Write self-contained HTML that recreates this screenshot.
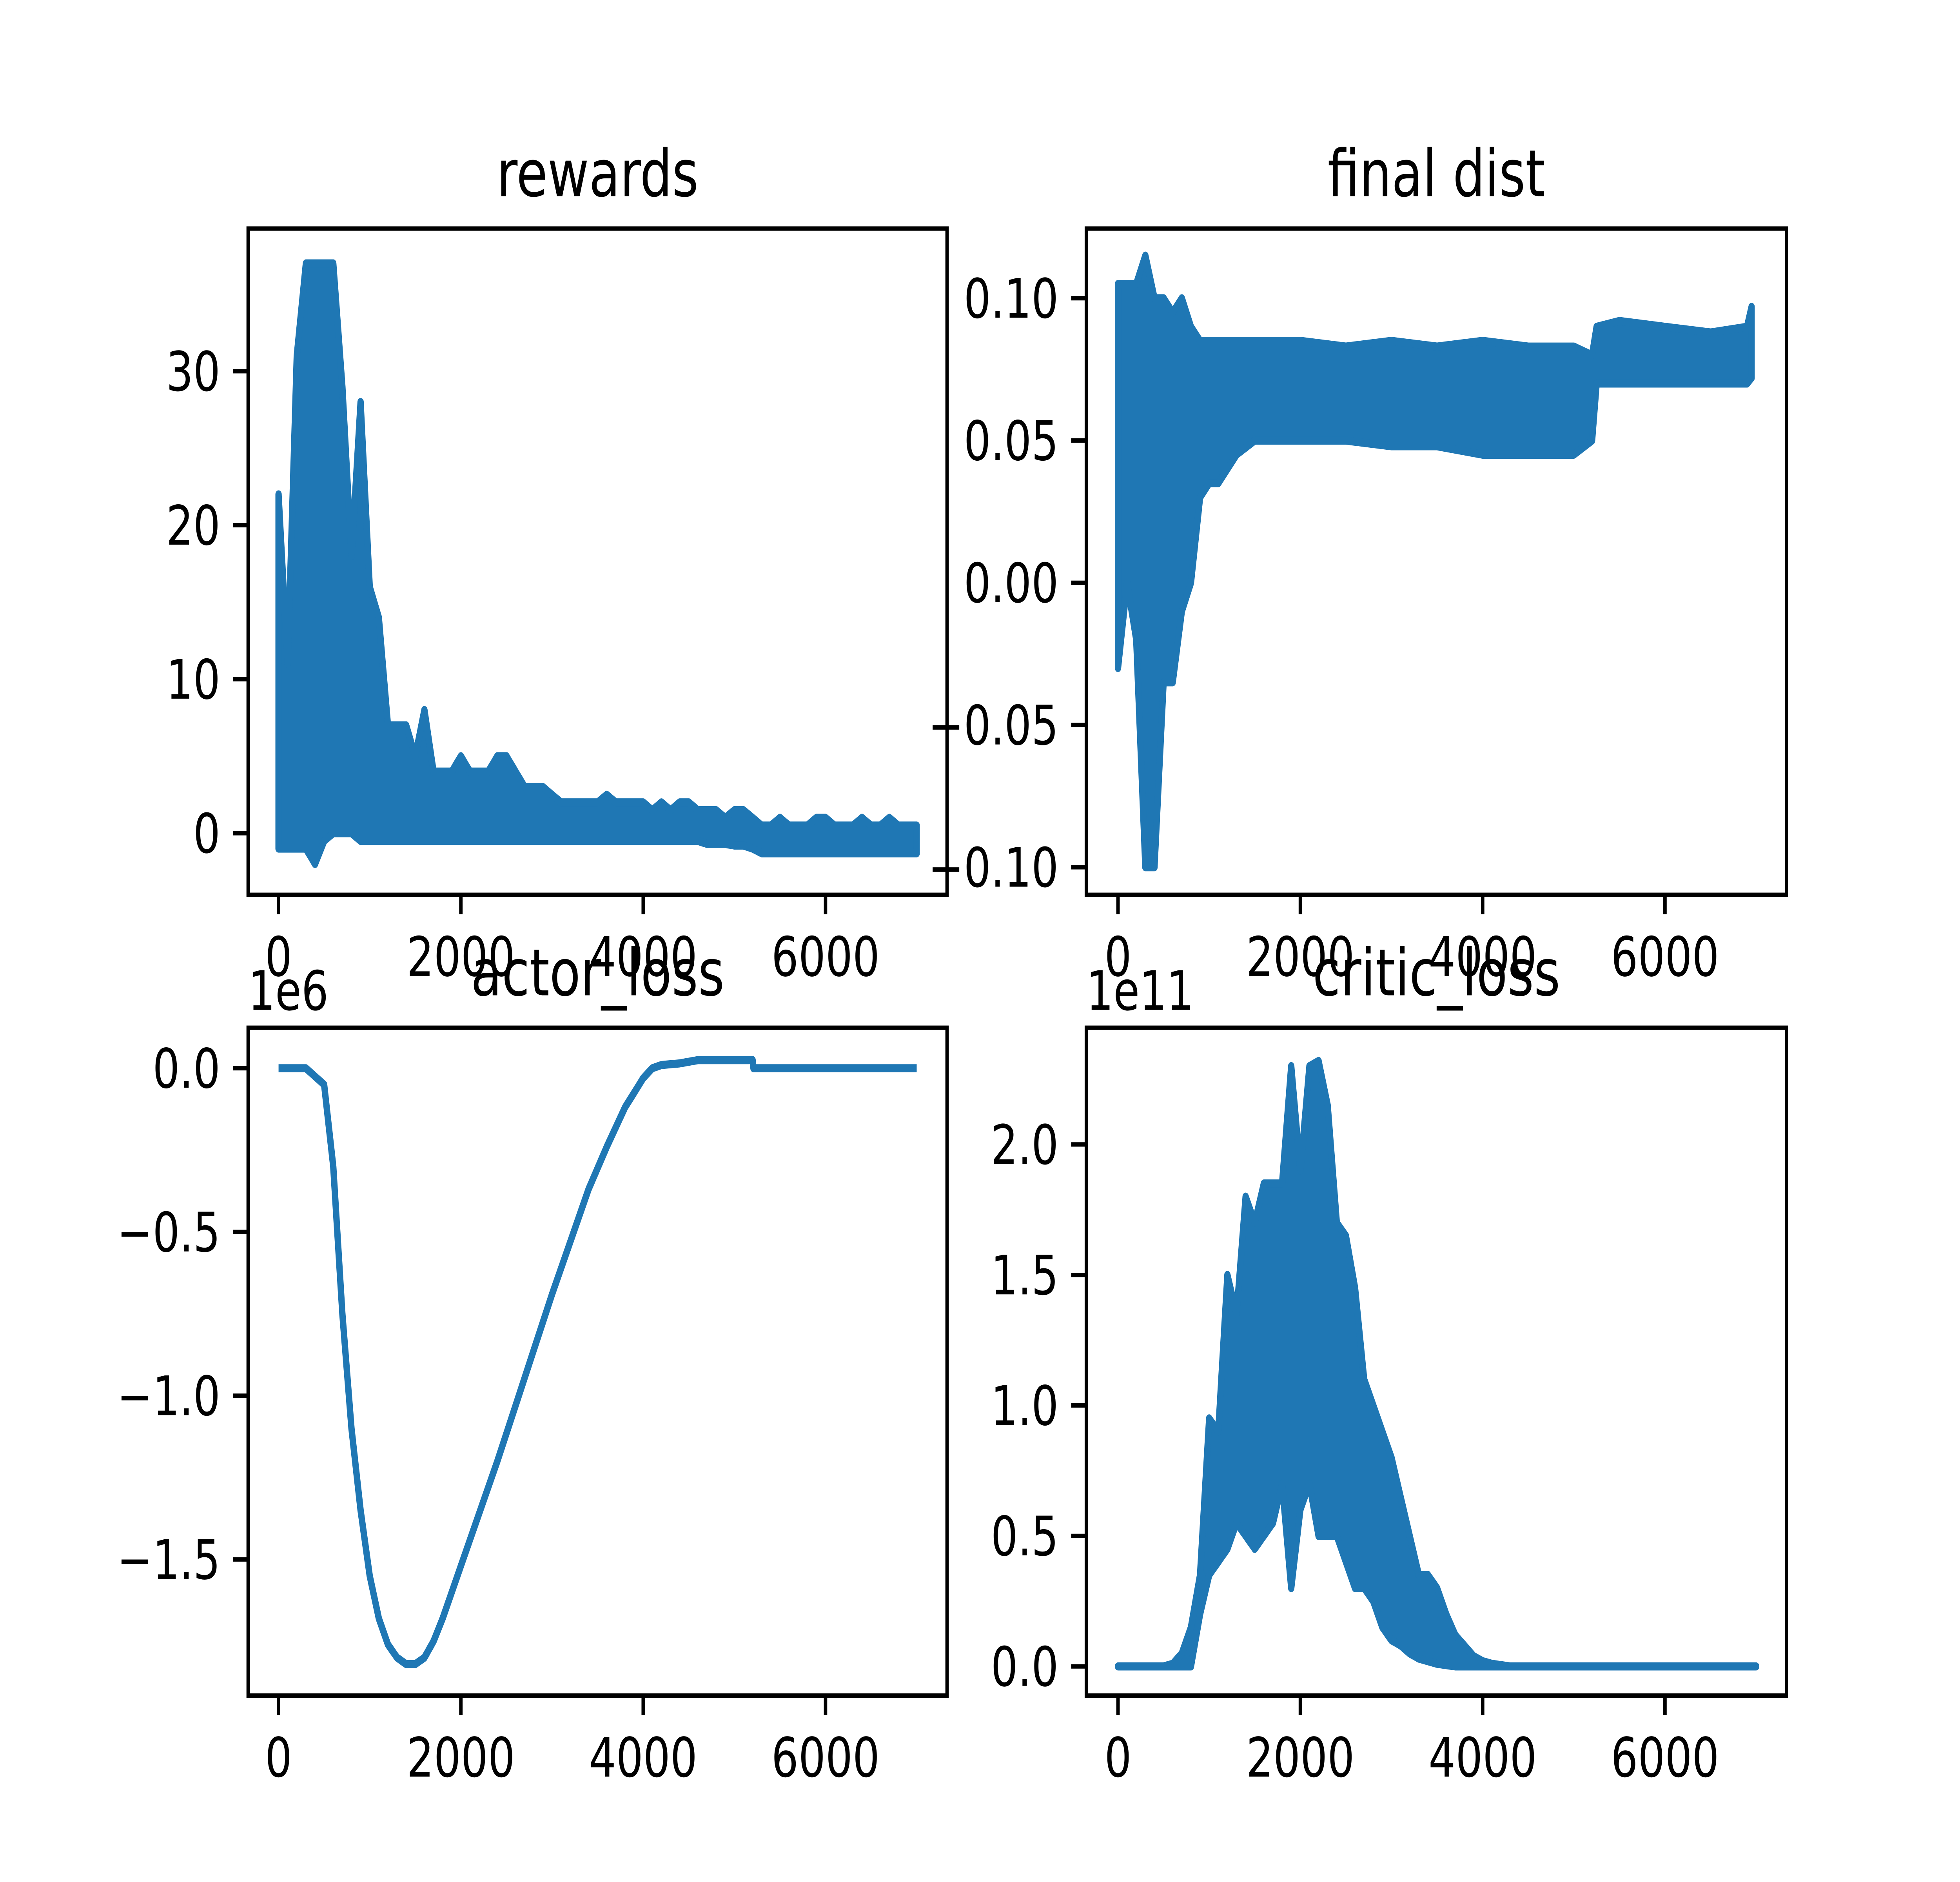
<!DOCTYPE html>
<html><head><meta charset="utf-8">
<style>
html,body{margin:0;padding:0;background:#fff;overflow:hidden;width:100%;height:100%;}
svg{display:block;width:100vw;height:100vh;}
text{font-family:"DejaVu Sans","Liberation Sans",sans-serif;fill:#000;}
</style></head>
<body>
<svg id="fig" viewBox="0 0 1548 1161" preserveAspectRatio="none" xmlns="http://www.w3.org/2000/svg">
<rect width="1548" height="1161" fill="#fff"/>
</svg>
<script>
// ---- data ----
const rewardsX = [0,100,200,300,400,500,600,700,800,900,1000,1100,1200,1300,1400,1500,1600,1700,1800,1900,2000,2100,2200,2300,2400,2500,2600,2700,2800,2900,3000,3100,3200,3300,3400,3500,3600,3700,3800,3900,4000,4100,4200,4300,4400,4500,4600,4700,4800,4900,5000,5100,5200,5300,5400,5500,5600,5700,5800,5900,6000,6100,6200,6300,6400,6500,6600,6700,6800,6900,7000];
const rewardsHi = [22,11,31,37,37,37,37,29,18,28,16,14,7,7,7,5,8,4,4,4,5,4,4,4,5,5,4,3,3,3,2.5,2,2,2,2,2,2.5,2,2,2,2,1.5,2,1.5,2,2,1.5,1.5,1.5,1,1.5,1.5,1,0.5,0.5,1,0.5,0.5,0.5,1,1,0.5,0.5,0.5,1,0.5,0.5,1,0.5,0.5,0.5];
const rewardsLo = [-1,-1,-1,-1,-2,-0.5,0,0,0,-0.5,-0.5,-0.5,-0.5,-0.5,-0.5,-0.5,-0.5,-0.5,-0.5,-0.5,-0.5,-0.5,-0.5,-0.5,-0.5,-0.5,-0.5,-0.5,-0.5,-0.5,-0.5,-0.5,-0.5,-0.5,-0.5,-0.5,-0.5,-0.5,-0.5,-0.5,-0.5,-0.5,-0.5,-0.5,-0.5,-0.5,-0.5,-0.7,-0.7,-0.7,-0.8,-0.8,-1,-1.3,-1.3,-1.3,-1.3,-1.3,-1.3,-1.3,-1.3,-1.3,-1.3,-1.3,-1.3,-1.3,-1.3,-1.3,-1.3,-1.3,-1.3];

const distX = [0,100,200,300,400,500,600,700,800,900,1000,1100,1200,1300,1500,2000,2500,3000,3500,4000,4500,5000,5200,5250,5500,6000,6500,6900,6950];
const distHi = [0.105,0.105,0.105,0.115,0.1,0.1,0.095,0.1,0.09,0.085,0.085,0.085,0.085,0.085,0.085,0.085,0.083,0.085,0.083,0.085,0.083,0.083,0.08,0.09,0.092,0.09,0.088,0.09,0.097];
const distLo = [-0.03,0.0,-0.02,-0.1,-0.1,-0.035,-0.035,-0.01,0.0,0.03,0.035,0.035,0.04,0.045,0.05,0.05,0.05,0.048,0.048,0.045,0.045,0.045,0.05,0.07,0.07,0.07,0.07,0.07,0.072];

const actorX = [0,300,500,600,700,800,900,1000,1100,1200,1300,1400,1500,1600,1700,1800,1900,2000,2200,2400,2600,2800,3000,3200,3400,3600,3800,4000,4100,4200,4400,4600,4800,5200,5210,7000];
const actorY = [0,0,-0.05,-0.3,-0.75,-1.1,-1.35,-1.55,-1.68,-1.76,-1.8,-1.82,-1.82,-1.8,-1.75,-1.68,-1.6,-1.52,-1.36,-1.2,-1.03,-0.86,-0.69,-0.53,-0.37,-0.24,-0.12,-0.03,0,0.01,0.015,0.025,0.025,0.025,0,0];

const criticX = [0,500,600,700,800,900,1000,1100,1200,1300,1400,1500,1600,1700,1800,1900,2000,2100,2200,2300,2400,2500,2600,2700,2800,2900,3000,3100,3200,3300,3400,3500,3600,3700,3800,3900,4000,4100,4200,4300,7000];
const criticHi = [0,0,0.01,0.05,0.15,0.35,0.95,0.9,1.5,1.35,1.8,1.7,1.85,1.85,1.85,2.3,1.9,2.3,2.32,2.15,1.7,1.65,1.45,1.1,1.0,0.9,0.8,0.65,0.5,0.35,0.35,0.3,0.2,0.12,0.08,0.04,0.02,0.01,0.005,0,0];
const criticLo = [0,0,0,0,0,0.2,0.35,0.4,0.45,0.55,0.5,0.45,0.5,0.55,0.7,0.3,0.6,0.7,0.5,0.5,0.5,0.4,0.3,0.3,0.25,0.15,0.1,0.08,0.05,0.03,0.02,0.01,0.005,0,0,0,0,0,0,0,0];

const xTicks = [0,2000,4000,6000];
const rewardsYTicks = [0,10,20,30];
const rewardsYLabels = ["0","10","20","30"];
const distYTicks = [0.10,0.05,0,-0.05,-0.10];
const distYLabels = ["0.10","0.05","0.00","\u22120.05","\u22120.10"];
const actorYTicks = [0,-0.5,-1.0,-1.5];
const actorYLabels = ["0.0","\u22120.5","\u22121.0","\u22121.5"];
const criticYTicks = [0,0.5,1.0,1.5,2.0];
const criticYLabels = ["0.0","0.5","1.0","1.5","2.0"];

const NS = "http://www.w3.org/2000/svg";
const svg = document.getElementById('fig');
const BLUE = "#1f77b4";
function mk(tag, attrs, parent){const e=document.createElementNS(NS,tag);for(const k in attrs)e.setAttribute(k,attrs[k]);(parent||svg).appendChild(e);return e;}

function panel(name, box, xmap, ymap, yTicks, yLabels, title, offset){
  const g = mk('g',{});
  
  
  const clip = mk('clipPath',{id:'clip-'+name},g);
  mk('rect',{x:box.l,y:box.t,width:box.r-box.l,height:box.b-box.t},clip);
  const plot = mk('g',{'clip-path':'url(#clip-'+name+')'},g);
  
  
  xTicks.forEach(v=>{
    const x=xmap(v);
    const t=mk('line',{x1:x,x2:x,y1:box.b,y2:box.b+12,stroke:'#000','stroke-width':2.7},g);
    
    
    const lb=mk('text',{x:x,y:box.b+50,'font-size':33.6,'text-anchor':'middle'},g);
    
    
    lb.textContent=String(v);
  });
  yTicks.forEach((v,i)=>{
    const y=ymap(v);
    const t=mk('line',{x1:box.l-12,x2:box.l,y1:y,y2:y,stroke:'#000','stroke-width':2.7},g);
    
    
    const lb=mk('text',{x:box.l-22,y:y+12,'font-size':33.6,'text-anchor':'end'},g);
    
    
    lb.textContent=yLabels[i];
  });
  const tt=mk('text',{x:(box.l+box.r)/2,y:box.t-20,'font-size':40,'text-anchor':'middle'},g);
  
  
  tt.textContent=title;
  if(offset){
    const o=mk('text',{x:box.l,y:box.t-11,'font-size':33.6},g);
    
    
    o.textContent=offset;
  }
  return {g,plot,box};
}
function frame(p){
  const f=mk('rect',{x:p.box.l,y:p.box.t,width:p.box.r-p.box.l,height:p.box.b-p.box.t,fill:'none',stroke:'#000','stroke-width':2.7},p.g);
  
  
}
function band(p, name, xs, hi, lo, xmap, ymap){
  let d='';
  xs.forEach((x,i)=>{d+=(i?'L':'M')+xmap(x).toFixed(1)+','+ymap(hi[i]).toFixed(1);});
  for(let i=xs.length-1;i>=0;i--){d+='L'+xmap(xs[i]).toFixed(1)+','+ymap(lo[i]).toFixed(1);}
  d+='Z';
  const e=mk('path',{d:d,fill:BLUE,stroke:BLUE,'stroke-width':5,'stroke-linejoin':'round'},p.plot);
  
  
}
function line(p, name, xs, ys, xmap, ymap){
  const pts=xs.map((x,i)=>xmap(x).toFixed(1)+','+ymap(ys[i]).toFixed(1)).join(' ');
  const e=mk('polyline',{points:pts,fill:'none',stroke:BLUE,'stroke-width':5,'stroke-linejoin':'round'},p.plot);
  
  
}

{
  const box={l:196,r:748,t:141,b:552};
  const xm=v=>220+v*0.072, ym=v=>514-v*9.5;
  const p=panel('rewards',box,xm,ym,rewardsYTicks,rewardsYLabels,'rewards');
  band(p,'rewards',rewardsX,rewardsHi,rewardsLo,xm,ym); frame(p);
}
{
  const box={l:858,r:1411,t:141,b:552};
  const xm=v=>883+v*0.072, ym=v=>359.5-v*1755;
  const p=panel('final-dist',box,xm,ym,distYTicks,distYLabels,'final dist');
  band(p,'final-dist',distX,distHi,distLo,xm,ym); frame(p);
}
{
  const box={l:196,r:748,t:634,b:1046};
  const xm=v=>220+v*0.072, ym=v=>659-v*202;
  const p=panel('actor-loss',box,xm,ym,actorYTicks,actorYLabels,'actor_loss','1e6');
  line(p,'actor-loss',actorX,actorY,xm,ym); frame(p);
}
{
  const box={l:858,r:1411,t:634,b:1046};
  const xm=v=>883+v*0.072, ym=v=>1028-v*161;
  const p=panel('critic-loss',box,xm,ym,criticYTicks,criticYLabels,'critic_loss','1e11');
  band(p,'critic-loss',criticX,criticHi,criticLo,xm,ym); frame(p);
}
</script>
</body></html>
